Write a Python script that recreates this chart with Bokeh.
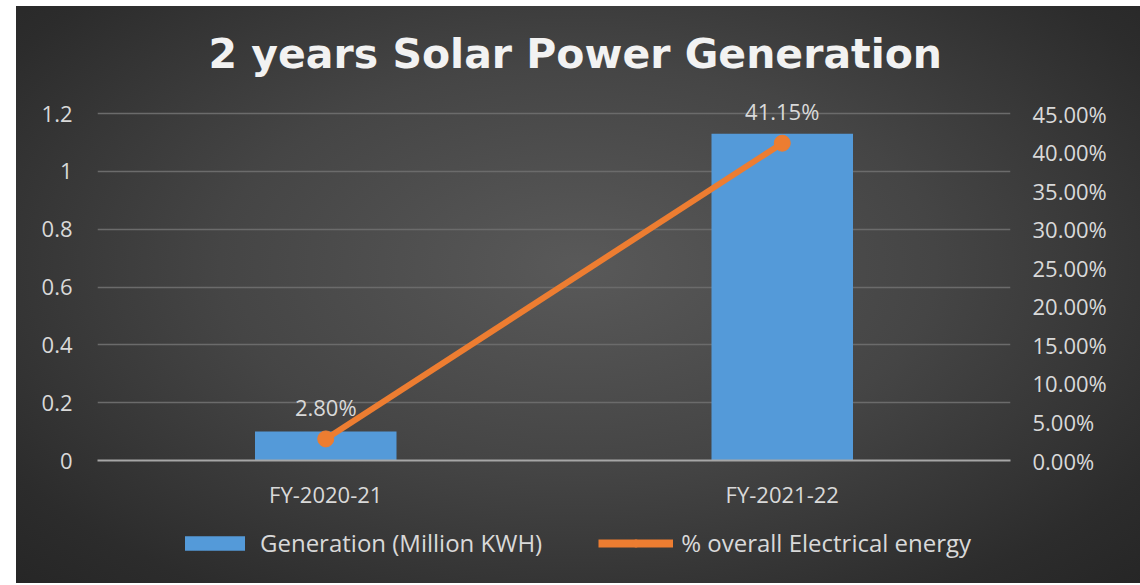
from bokeh.plotting import figure
from bokeh.models import (ColumnDataSource, LinearAxis, Range1d, FactorRange, LabelSet,
                          Legend, LegendItem, NumeralTickFormatter, FixedTicker, Title)
from bokeh.layouts import column
from bokeh.core.properties import value
from bokeh.embed import file_html
from bokeh.resources import INLINE

categories = ["FY-2020-21", "FY-2021-22"]
generation = [0.10, 1.13]
pct_energy = [2.80, 41.15]
pct_labels = ["2.80%", "41.15%"]
left_ticks = [0, 0.2, 0.4, 0.6, 0.8, 1.0, 1.2]
right_ticks = [0, 0.05, 0.10, 0.15, 0.20, 0.25, 0.30, 0.35, 0.40, 0.45]

FONT = "Open Sans"
TXT = "#d9d9d9"
BAR = "#549ad9"
ORANGE = "#ed7d31"

src = ColumnDataSource(dict(cat=categories, gen=generation,
                            pct=[v / 100 for v in pct_energy], lab=pct_labels))

# frame extends 20px above the top gridline so that the top data label is not clipped
GRID_PX = 347.0
EXTRA_PX = 20.0
k = (GRID_PX + EXTRA_PX) / GRID_PX

p = figure(x_range=FactorRange(*categories, range_padding=0), y_range=Range1d(0, 1.2 * k),
           width=1124, height=520, output_backend="svg", toolbar_location=None,
           min_border_left=81, min_border_right=130, min_border_top=87, min_border_bottom=66)
p.background_fill_alpha = 0
p.border_fill_alpha = 0
p.outline_line_color = None

p.title = Title(text="2 years Solar Power Generation", align="left",
                text_font="DejaVu Sans", text_font_size="41px", text_font_style="bold",
                text_color="#f2f2f2", standoff=32, offset=111)

p.extra_y_ranges = {"pct": Range1d(0, 0.45 * k)}

bars = p.vbar(x="cat", top="gen", width=0.31, source=src, fill_color=BAR, line_color=None)
line = p.line(x="cat", y="pct", source=src, y_range_name="pct", line_color=ORANGE, line_width=6)
dots = p.scatter(x="cat", y="pct", source=src, y_range_name="pct", size=16,
                 fill_color=ORANGE, line_color=ORANGE)

labels = LabelSet(x="cat", y="pct", text="lab", source=src, y_range_name="pct",
                  text_align="center", text_baseline="bottom", y_offset=17,
                  text_font=value(FONT), text_font_size=value("22px"), text_color=TXT)
p.add_layout(labels)

p.yaxis.ticker = FixedTicker(ticks=left_ticks)
p.yaxis.major_label_overrides = {t: f"{t:g}" for t in left_ticks}
ax_r = LinearAxis(y_range_name="pct", ticker=FixedTicker(ticks=right_ticks),
                  formatter=NumeralTickFormatter(format="0.00%"))
p.add_layout(ax_r, "right")

for ax in [p.yaxis[0], ax_r, p.xaxis[0]]:
    ax.axis_line_color = None
    ax.major_tick_line_color = None
    ax.minor_tick_line_color = None
    ax.major_tick_out = 0
    ax.major_tick_in = 0
    ax.major_label_text_font = FONT
    ax.major_label_text_font_size = "22px"
    ax.major_label_text_color = TXT
p.yaxis[0].major_label_standoff = 25
ax_r.major_label_standoff = 22
p.xaxis[0].major_label_standoff = 18
p.xaxis[0].axis_line_color = "#a6a6a6"
p.xaxis[0].axis_line_width = 2

p.xgrid.grid_line_color = None
p.ygrid.grid_line_color = "#6b6b6b"
p.ygrid.grid_line_width = 1.5
p.ygrid.ticker = FixedTicker(ticks=left_ticks)

# legend strip (its renderers use the same data, kept outside the strip's visible range)
lg = figure(width=1124, height=57, output_backend="svg", toolbar_location=None,
            x_range=FactorRange(*categories), y_range=Range1d(10, 11),
            x_axis_type=None, y_axis_type=None, min_border=0)
lg.background_fill_alpha = 0
lg.border_fill_alpha = 0
lg.outline_line_color = None
lg.xgrid.visible = False
lg.ygrid.visible = False
lb = lg.vbar(x="cat", top="gen", width=0.31, source=src, fill_color=BAR, line_color=None)
ll = lg.line(x="cat", y="pct", source=src, line_color=ORANGE, line_width=8)
ld = lg.scatter(x="cat", y="pct", source=src, size=14, fill_color=ORANGE, line_color=ORANGE)
legend = Legend(items=[LegendItem(label="Generation (Million KWH)", renderers=[lb]),
                       LegendItem(label="% overall Electrical energy", renderers=[ll, ld])],
                orientation="horizontal", location=(80, 24),
                background_fill_alpha=0, border_line_color=None,
                label_text_font=FONT, label_text_font_size="24px",
                label_text_color=TXT,
                glyph_width=75, glyph_height=18, spacing=56, label_standoff=8,
                margin=0, padding=0)
lg.add_layout(legend, "center")

layout = column(p, lg, spacing=0)
layout.margin = (6, 0, 2, 16)
layout.styles = {"background": "radial-gradient(ellipse at 50% 45%, #595959 0%, #454545 45%, #2c2c2c 85%, #262626 100%)"}

open("out.html", "w").write(file_html(layout, INLINE))
